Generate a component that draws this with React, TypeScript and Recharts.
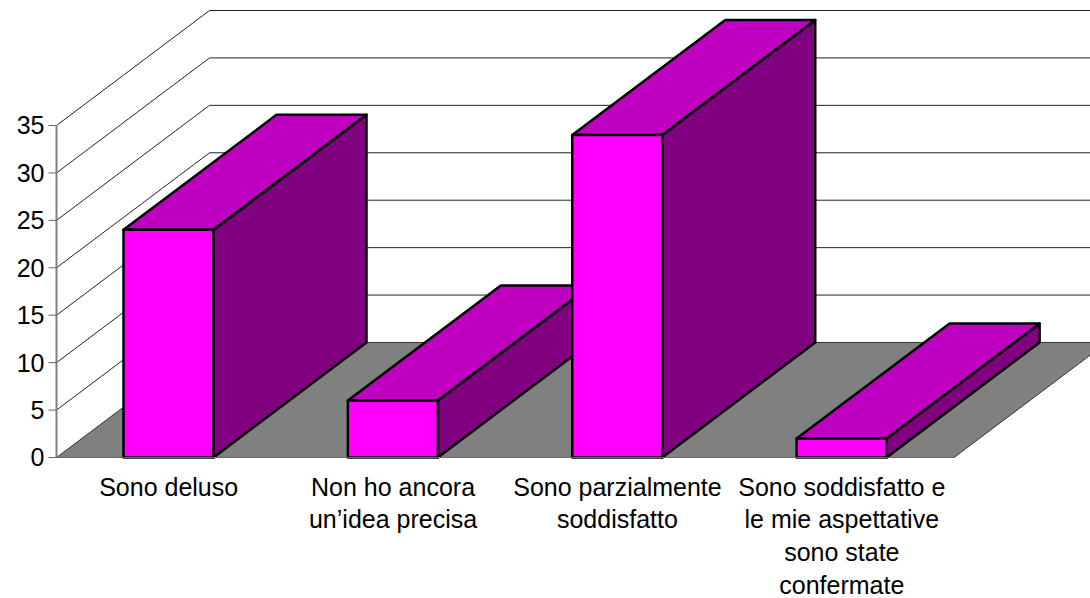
import React from 'react';
import { BarChart, Bar, XAxis, YAxis, CartesianGrid } from 'recharts';

const categories = ['Sono deluso', 'Non ho ancora', 'Sono parzialmente', 'Sono soddisfatto e'];
const labelLines = [
  ['Sono deluso'],
  ['Non ho ancora', 'un’idea precisa'],
  ['Sono parzialmente', 'soddisfatto'],
  ['Sono soddisfatto e', 'le mie aspettative', 'sono state', 'confermate'],
];
const values = [24, 6, 34, 2];
const yTicks = [0, 5, 10, 15, 20, 25, 30, 35];

const data = categories.map((name, i) => ({ name, value: values[i] }));

const DEPTH_X = 153;
const DEPTH_Y = 115;
const FONT = '"Liberation Sans", Arial, sans-serif';

// one wall line per y tick: slanted on the left wall, then flat on the back wall
function WallLine(props: any) {
  const { x1, x2, y1 } = props;
  if (y1 > 450) {
    return (
      <polygon
        points={`${x1},${y1} ${x1 + DEPTH_X},${y1 - DEPTH_Y} ${x2 + DEPTH_X},${y1 - DEPTH_Y} ${x2},${y1}`}
        fill="#808080"
        stroke="#333"
        strokeWidth={1}
      />
    );
  }
  return (
    <polyline
      points={`${x1},${y1} ${x1 + DEPTH_X},${y1 - DEPTH_Y} ${x2 + DEPTH_X},${y1 - DEPTH_Y}`}
      fill="none"
      stroke="#222"
      strokeWidth={1}
    />
  );
}

function Box3D(props: any) {
  const { x, y, width, height } = props;
  const r = x + width;
  const b = y + height;
  return (
    <g stroke="#000" strokeWidth={2.5} strokeLinejoin="round">
      <polygon
        points={`${r},${y} ${r + DEPTH_X},${y - DEPTH_Y} ${r + DEPTH_X},${b - DEPTH_Y} ${r},${b}`}
        fill="#800080"
      />
      <polygon
        points={`${x},${y} ${x + DEPTH_X},${y - DEPTH_Y} ${r + DEPTH_X},${y - DEPTH_Y} ${r},${y}`}
        fill="#C000C0"
      />
      <rect x={x} y={y} width={width} height={height} fill="#FF00FF" />
    </g>
  );
}

function CategoryTick(props: any) {
  const { x, y, index } = props;
  return (
    <text textAnchor="middle" fontFamily={FONT} fontSize={25} fill="#000">
      {labelLines[index].map((line, i) => (
        <tspan key={line} x={x} y={y + 30 + i * 32.8}>
          {line}
        </tspan>
      ))}
    </text>
  );
}

export default function App() {
  return (
    <div style={{ position: 'absolute', left: 0, top: 0, width: 1090, height: 598, overflow: 'hidden', background: '#fff' }}>
      <BarChart
        width={1090}
        height={598}
        data={data}
        margin={{ top: 125.5, right: 136, left: 0, bottom: 0 }}
      >
        <CartesianGrid vertical={false} horizontal={WallLine} />
        <XAxis
          dataKey="name"
          height={140.5}
          axisLine={{ stroke: '#666', strokeWidth: 1 }}
          tickLine={false}
          interval={0}
          tick={CategoryTick}
        />
        <YAxis
          width={56.5}
          domain={[0, 35]}
          ticks={yTicks}
          interval={0}
          axisLine={{ stroke: '#808080', strokeWidth: 2 }}
          tickLine={{ stroke: '#666', strokeWidth: 1 }}
          tickSize={8}
          tick={{ fontFamily: FONT, fontSize: 25, fill: '#000' }}
          tickMargin={4}
        />
        <Bar dataKey="value" barSize={90} shape={Box3D} isAnimationActive={false} />
      </BarChart>
    </div>
  );
}
